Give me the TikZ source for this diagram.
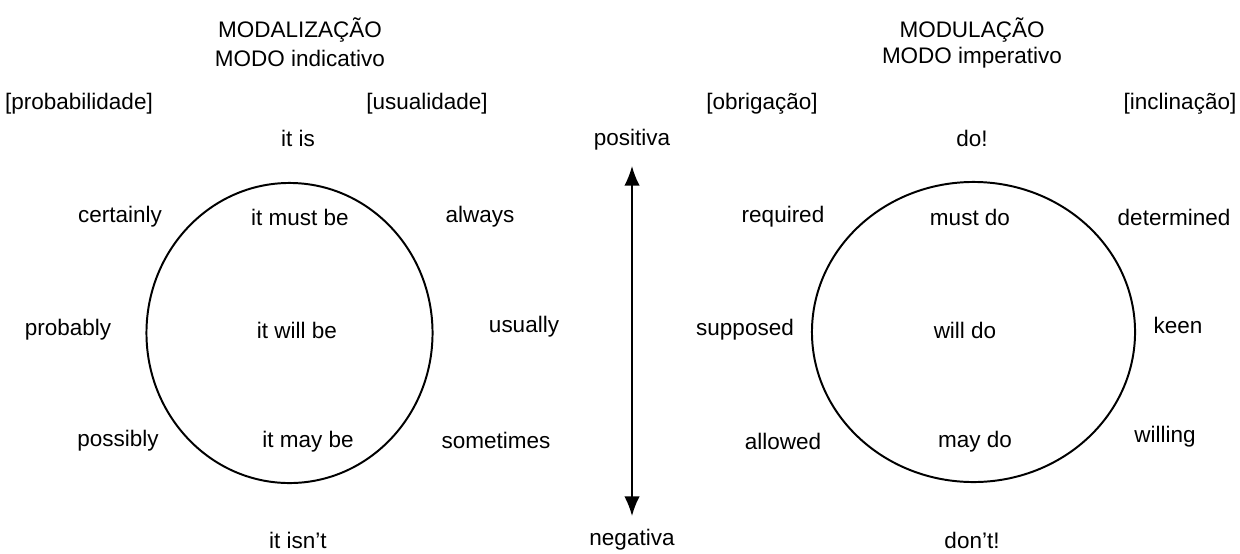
\documentclass[tikz,border=0pt]{standalone}
\usepackage{fontspec}
\setmainfont{Liberation Sans}
\usetikzlibrary{arrows.meta, shapes.geometric}

\begin{document}
\begin{tikzpicture}[x=0.025cm, y=-0.025cm,
  txt/.style={font=\fontsize{16}{19}\selectfont, inner sep=0pt},
  ring/.style={draw, ellipse, line width=1.4pt, inner sep=0pt}]
  \useasboundingbox (0,0) rectangle (1240,553);

  % modalizacao
  \node[txt] (modtitle) at (300,30) {MODALIZAÇÃO};
  \node[txt] (modmode) at (300,58) {MODO indicativo};
  \node[txt] (prob) at (79,104) {[probabilidade]};
  \node[txt] (usual) at (427,104) {[usualidade]};
  \node[txt] (itis) at (298,138) {it is};
  \node[ring, minimum width=7.15cm, minimum height=7.5cm] (modring) at (289.5,333) {};
  \node[txt] (certainly) at (120,217) {certainly};
  \node[txt] (mustbe) at (300,217) {it must be};
  \node[txt] (always) at (480,217) {always};
  \node[txt] (probably) at (68,330) {probably};
  \node[txt] (willbe) at (297,330) {it will be};
  \node[txt] (usually) at (524,327) {usually};
  \node[txt] (possibly) at (118,441) {possibly};
  \node[txt] (maybe) at (308,442) {it may be};
  \node[txt] (sometimes) at (496,440) {sometimes};
  \node[txt] (itisnt) at (298,540) {it isn’t};

  % polaridade
  \node[txt] (pos) at (632,140) {positiva};
  \node[txt] (neg) at (632,540) {negativa};
  \coordinate (postip) at (632,166);
  \coordinate (negtip) at (632,516);
  \draw[line width=1.2pt, {Latex[length=14pt,width=11pt]}-{Latex[length=14pt,width=11pt]}] (postip) -- (negtip);

  % modulacao
  \node[txt] (multitle) at (972,30) {MODULAÇÃO};
  \node[txt] (mulmode) at (972,58) {MODO imperativo};
  \node[txt] (obrig) at (762,104) {[obrigação]};
  \node[txt] (inclin) at (1180,104) {[inclinação]};
  \node[txt] (doit) at (972,138) {do!};
  \node[ring, minimum width=8.075cm, minimum height=7.5cm] (mulring) at (973.5,332) {};
  \node[txt] (required) at (783,217) {required};
  \node[txt] (mustdo) at (970,217) {must do};
  \node[txt] (determined) at (1174,217) {determined};
  \node[txt] (supposed) at (745,330) {supposed};
  \node[txt] (willdo) at (965,330) {will do};
  \node[txt] (keen) at (1178,325) {keen};
  \node[txt] (allowed) at (783,441) {allowed};
  \node[txt] (maydo) at (975,442) {may do};
  \node[txt] (willing) at (1165,437) {willing};
  \node[txt] (dont) at (972,540) {don't!};
\end{tikzpicture}
\end{document}
